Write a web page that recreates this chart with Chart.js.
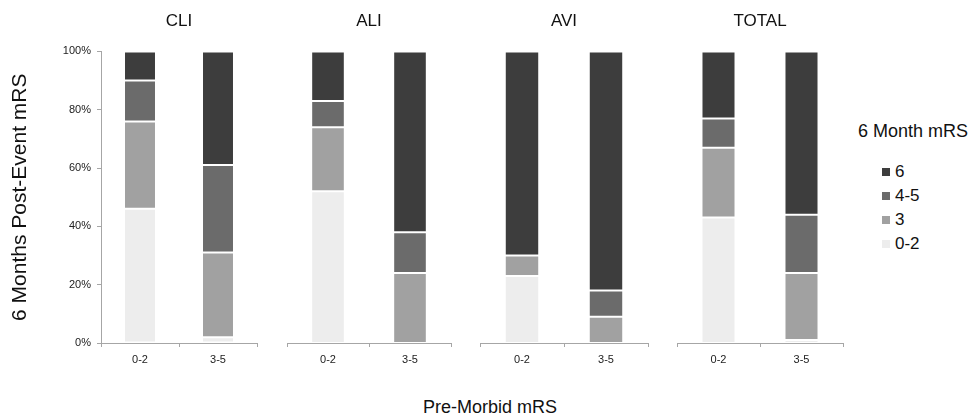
<!DOCTYPE html>
<html>
<head>
<meta charset="utf-8">
<script src="https://cdn.jsdelivr.net/npm/chart.js@4.4.1/dist/chart.umd.min.js"></script>
<style>
  html, body { margin: 0; padding: 0; background: #fff; }
  #wrap { position: relative; width: 975px; height: 418px; overflow: hidden; font-family: "Liberation Sans", Arial, sans-serif; color: #111; }
  .panel { position: absolute; top: 0; height: 375px; }
  #xtitle { position: absolute; left: 0; width: 980px; top: 397px; text-align: center; font-size: 18px; }
  #legend { position: absolute; left: 858px; top: 121px; white-space: nowrap; }
  #legend .ttl { font-size: 18px; margin-bottom: 18px; }
  #legend .item { font-size: 17px; height: 24px; line-height: 24px; padding-left: 24px; }
  #legend .box { display: inline-block; width: 8px; height: 8px; margin-right: 5px; vertical-align: 1px; }
</style>
</head>
<body>
<div id="wrap">
  <div class="panel" style="left:0;width:262px"><canvas id="c0"></canvas></div>
  <div class="panel" style="left:282px;width:174px"><canvas id="c1"></canvas></div>
  <div class="panel" style="left:475px;width:178px"><canvas id="c2"></canvas></div>
  <div class="panel" style="left:672px;width:176px"><canvas id="c3"></canvas></div>
  <div id="xtitle">Pre-Morbid mRS</div>
  <div id="legend"></div>
</div>
<script>
// 数据：每个面板两组（术前 mRS 0-2 / 3-5），按 6 个月 mRS 分层的百分比
const panels = ["CLI", "ALI", "AVI", "TOTAL"];
const preMorbid = ["0-2", "3-5"];
const seriesNames = ["0-2", "3", "4-5", "6"];
const yTicks = [0, 20, 40, 60, 80, 100];

// 顺序：CLI 0-2, CLI 3-5, ALI 0-2, ALI 3-5, AVI 0-2, AVI 3-5, TOTAL 0-2, TOTAL 3-5
const mrs02 = [46, 2, 52, 0, 23, 0, 43, 1];
const mrs3 = [30, 29, 22, 24, 7, 9, 24, 23];
const mrs45 = [14, 30, 9, 14, 0, 9, 10, 20];
const mrs6 = [10, 39, 17, 62, 70, 82, 23, 56];

const seriesColors = ["#ededed", "#a1a1a1", "#6b6b6b", "#3d3d3d"];
const axisGray = "#a6a6a6";

const allSeries = [mrs02, mrs3, mrs45, mrs6];

// 图例（从上到下：6, 4-5, 3, 0-2）
const legendEl = document.getElementById("legend");
legendEl.innerHTML = '<div class="ttl">6 Month mRS</div>' +
  seriesNames.map((name, i) =>
    `<div class="item"><span class="box" style="background:${seriesColors[i]}"></span>${name}</div>`
  ).reverse().join("");

panels.forEach((panel, p) => {
  const first = p === 0;
  const ctx = document.getElementById("c" + p).getContext("2d");
  new Chart(ctx, {
    type: "bar",
    data: {
      labels: preMorbid,
      datasets: allSeries.map((vals, i) => ({
        label: seriesNames[i],
        data: vals.slice(p * 2, p * 2 + 2),
        backgroundColor: seriesColors[i],
        borderColor: "#ffffff",
        borderWidth: 1,
        borderSkipped: false,
        categoryPercentage: 1,
        barPercentage: 0.41,
      })),
    },
    options: {
      responsive: true,
      maintainAspectRatio: false,
      animation: false,
      layout: {
        padding: { left: first ? 0 : 5, right: 5, top: 0, bottom: 0 },
      },
      plugins: {
        legend: { display: false },
        tooltip: { enabled: false },
        title: {
          display: true,
          text: panel,
          fullSize: false,
          color: "#111",
          font: { family: "Liberation Sans", size: 17, weight: "normal" },
          padding: { top: 11, bottom: 20 },
        },
      },
      scales: {
        x: {
          stacked: true,
          afterFit: (scale) => { scale.height = 32; },
          border: { display: true, color: axisGray },
          grid: {
            offset: true,
            drawOnChartArea: false,
            drawTicks: true,
            tickLength: 4,
            color: axisGray,
          },
          ticks: {
            color: "#222",
            padding: 6,
            font: { family: "Liberation Sans Narrow, Liberation Sans", size: 11 },
          },
        },
        y: {
          display: first,
          stacked: true,
          min: 0,
          max: 100,
          afterFit: (scale) => { if (first) scale.width = 101; },
          afterBuildTicks: (scale) => { scale.ticks = yTicks.map(v => ({ value: v })); },
          border: { display: true, color: axisGray },
          grid: {
            drawOnChartArea: false,
            drawTicks: true,
            tickLength: 4,
            color: axisGray,
          },
          ticks: {
            color: "#222",
            padding: 6,
            font: { family: "Liberation Sans", size: 11 },
            callback: (v) => v + "%",
          },
          title: {
            display: true,
            text: "6 Months Post-Event mRS",
            color: "#111",
            font: { family: "Liberation Sans", size: 21, weight: "normal" },
            padding: { top: 8, bottom: 0 },
          },
        },
      },
    },
  });
});
</script>
</body>
</html>
